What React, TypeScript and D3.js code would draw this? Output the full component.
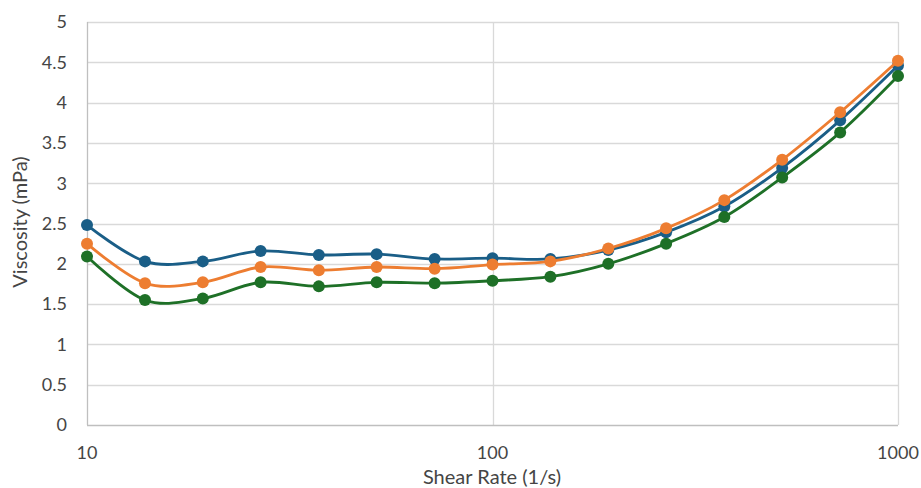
import * as d3 from "d3";
import { useEffect, useRef } from "react";

const shearRates = [10, 13.9, 19.3, 26.8, 37.3, 51.8, 72, 100, 138.9, 193, 268, 373, 518, 720, 1000];
const seriesA = [2.48, 2.03, 2.03, 2.16, 2.11, 2.12, 2.06, 2.07, 2.06, 2.17, 2.39, 2.71, 3.19, 3.78, 4.46];
const seriesB = [2.25, 1.76, 1.77, 1.96, 1.92, 1.96, 1.94, 1.99, 2.03, 2.19, 2.44, 2.79, 3.29, 3.88, 4.52];
const seriesC = [2.09, 1.55, 1.57, 1.77, 1.72, 1.77, 1.76, 1.79, 1.84, 2.0, 2.25, 2.58, 3.07, 3.63, 4.33];
const seriesColors = ["#1a5e87", "#ed7d31", "#1e7027"];
const xTicks = [10, 100, 1000];
const yTicks = [0, 0.5, 1, 1.5, 2, 2.5, 3, 3.5, 4, 4.5, 5];

export default function App() {
  const svgRef = useRef<SVGSVGElement | null>(null);

  useEffect(() => {
    if (!svgRef.current) return;
    const width = 921;
    const height = 488;
    const left = 87;
    const right = 898;
    const top = 22;
    const bottom = 425;
    const font = "Lato, sans-serif";
    const textColor = "#454545";

    const x = d3.scaleLog().domain([10, 1000]).range([left, right]);
    const y = d3.scaleLinear().domain([0, 5]).range([bottom, top]);

    const svg = d3.select(svgRef.current);
    svg.selectAll("*").remove();
    svg.attr("width", width).attr("height", height);

    svg.append("rect").attr("width", width).attr("height", height).attr("fill", "#fff");

    // grid
    svg
      .append("g")
      .selectAll("line")
      .data(yTicks.filter((d) => d > 0))
      .enter()
      .append("line")
      .attr("x1", left)
      .attr("x2", right)
      .attr("y1", (d) => Math.round(y(d)) + 0.5)
      .attr("y2", (d) => Math.round(y(d)) + 0.5)
      .attr("stroke", "#d9d9d9")
      .attr("stroke-width", 1.3);
    svg
      .append("g")
      .selectAll("line")
      .data(xTicks.filter((d) => d > 10))
      .enter()
      .append("line")
      .attr("x1", (d) => Math.round(x(d)) + 0.5)
      .attr("x2", (d) => Math.round(x(d)) + 0.5)
      .attr("y1", top)
      .attr("y2", bottom)
      .attr("stroke", "#d9d9d9")
      .attr("stroke-width", 1.3);

    // axis lines
    svg
      .append("line")
      .attr("x1", left + 0.5)
      .attr("x2", left + 0.5)
      .attr("y1", top)
      .attr("y2", bottom)
      .attr("stroke", "#bfbfbf")
      .attr("stroke-width", 1.3);
    svg
      .append("line")
      .attr("x1", left)
      .attr("x2", right)
      .attr("y1", bottom + 0.5)
      .attr("y2", bottom + 0.5)
      .attr("stroke", "#bfbfbf")
      .attr("stroke-width", 1.3);

    // tick labels
    svg
      .append("g")
      .selectAll("text")
      .data(yTicks)
      .enter()
      .append("text")
      .attr("x", 67)
      .attr("y", (d) => y(d))
      .attr("dy", "0.35em")
      .attr("text-anchor", "end")
      .attr("font-family", font)
      .attr("font-size", 18)
      .attr("fill", textColor)
      .text((d) => String(d));
    svg
      .append("g")
      .selectAll("text")
      .data(xTicks)
      .enter()
      .append("text")
      .attr("x", (d) => x(d))
      .attr("y", 459)
      .attr("text-anchor", "middle")
      .attr("font-family", font)
      .attr("font-size", 18)
      .attr("fill", textColor)
      .text((d) => String(d));

    // axis titles
    svg
      .append("text")
      .attr("x", 492)
      .attr("y", 484)
      .attr("text-anchor", "middle")
      .attr("font-family", font)
      .attr("font-size", 20)
      .attr("fill", textColor)
      .text("Shear Rate (1/s)");
    svg
      .append("text")
      .attr("transform", "translate(27,222) rotate(-90)")
      .attr("text-anchor", "middle")
      .attr("font-family", font)
      .attr("font-size", 20)
      .attr("fill", textColor)
      .text("Viscosity (mPa)");

    // series
    const line = d3
      .line<[number, number]>()
      .x((d) => x(d[0]))
      .y((d) => y(d[1]))
      .curve(d3.curveCardinal.tension(0));

    [seriesA, seriesB, seriesC].forEach((vals, i) => {
      const pts = shearRates.map((r, j) => [r, vals[j]] as [number, number]);
      const g = svg.append("g");
      g.append("path")
        .attr("d", line(pts))
        .attr("fill", "none")
        .attr("stroke", seriesColors[i])
        .attr("stroke-width", 2.8);
      g.selectAll("circle")
        .data(pts)
        .enter()
        .append("circle")
        .attr("cx", (d) => x(d[0]))
        .attr("cy", (d) => y(d[1]))
        .attr("r", 6)
        .attr("fill", seriesColors[i]);
    });
  }, []);

  return <svg ref={svgRef} style={{ position: "fixed", top: 0, left: 0 }} />;
}
